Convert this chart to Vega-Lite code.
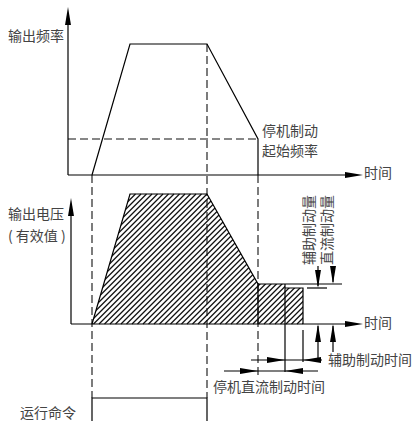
{
  "$schema": "https://vega.github.io/schema/vega-lite/v6.json",
  "width": 416,
  "height": 421,
  "padding": 0,
  "autosize": {"type": "none"},
  "background": "white",
  "config": {"view": {"stroke": null}},
  "datasets": {
    "hatch": [
      {"a":0},{"a":5.5},{"a":11},{"a":16.5},{"a":22},{"a":27.5},{"a":33},{"a":38.5},{"a":44},{"a":49.5},
      {"a":55},{"a":60.5},{"a":66},{"a":71.5},{"a":77},{"a":82.5},{"a":88},{"a":93.5},{"a":99},{"a":104.5},
      {"a":110},{"a":115.5},{"a":121},{"a":126.5},{"a":132},{"a":137.5},{"a":143},{"a":148.5},{"a":154},{"a":159.5},
      {"a":165},{"a":170.5},{"a":176},{"a":181.5},{"a":187},{"a":192.5},{"a":198},{"a":203.5},{"a":209},{"a":214.5},
      {"a":220},{"a":225.5},{"a":231},{"a":236.5},{"a":242},{"a":247.5},{"a":253},{"a":258.5},{"a":264},{"a":269.5},
      {"a":275},{"a":280.5},{"a":286},{"a":291.5},{"a":297},{"a":302.5}
    ],
    "mask": [
      {"id":"L","x":0,"top":188,"bot":330},
      {"id":"L","x":91,"top":188,"bot":330},
      {"id":"L","x":92,"top":188,"bot":324},
      {"id":"L","x":130,"top":188,"bot":194},
      {"id":"R","x":207,"top":188,"bot":194},
      {"id":"R","x":258,"top":188,"bot":284},
      {"id":"R","x":285,"top":188,"bot":284},
      {"id":"R","x":285.01,"top":188,"bot":288},
      {"id":"R","x":303,"top":188,"bot":288},
      {"id":"R","x":303.01,"top":188,"bot":325},
      {"id":"R","x":416,"top":188,"bot":325}
    ],
    "solid": [
      {"id":"s1","o":1,"x":68,"y":175},{"id":"s1","o":2,"x":68,"y":20},
      {"id":"s2","o":1,"x":68,"y":175},{"id":"s2","o":2,"x":350,"y":175},
      {"id":"s3","o":1,"x":92,"y":175},{"id":"s3","o":2,"x":130,"y":44},{"id":"s3","o":3,"x":207,"y":44},{"id":"s3","o":4,"x":258,"y":139},{"id":"s3","o":5,"x":258,"y":175},
      {"id":"s4","o":1,"x":71,"y":324},{"id":"s4","o":2,"x":71,"y":205},
      {"id":"s5","o":1,"x":71,"y":324},{"id":"s5","o":2,"x":350,"y":324},
      {"id":"s6","o":1,"x":92,"y":324},{"id":"s6","o":2,"x":130,"y":194},{"id":"s6","o":3,"x":207,"y":194},{"id":"s6","o":4,"x":258,"y":284},{"id":"s6","o":5,"x":258,"y":324},
      {"id":"s7","o":1,"x":258,"y":284},{"id":"s7","o":2,"x":342,"y":284},
      {"id":"s8","o":1,"x":285,"y":284},{"id":"s8","o":2,"x":285,"y":372},
      {"id":"s9","o":1,"x":285,"y":288},{"id":"s9","o":2,"x":303,"y":288},{"id":"s9","o":3,"x":303,"y":324},
      {"id":"s10","o":1,"x":303,"y":330},{"id":"s10","o":2,"x":303,"y":362},
      {"id":"s11","o":1,"x":307,"y":288},{"id":"s11","o":2,"x":327,"y":288},
      {"id":"s12","o":1,"x":318,"y":266},{"id":"s12","o":2,"x":318,"y":286},
      {"id":"s13","o":1,"x":333,"y":266},{"id":"s13","o":2,"x":333,"y":282},
      {"id":"s14","o":1,"x":318,"y":326},{"id":"s14","o":2,"x":318,"y":360},
      {"id":"s15","o":1,"x":333,"y":326},{"id":"s15","o":2,"x":333,"y":352},
      {"id":"s16","o":1,"x":251,"y":360},{"id":"s16","o":2,"x":322,"y":360},
      {"id":"s17","o":1,"x":224,"y":371},{"id":"s17","o":2,"x":318,"y":371},
      {"id":"s18","o":1,"x":92,"y":421},{"id":"s18","o":2,"x":92,"y":398},{"id":"s18","o":3,"x":207,"y":398},{"id":"s18","o":4,"x":207,"y":421}
    ],
    "dashed": [
      {"id":"d1","o":1,"x":68,"y":139},{"id":"d1","o":2,"x":258,"y":139},
      {"id":"d2","o":1,"x":92,"y":175},{"id":"d2","o":2,"x":92,"y":398},
      {"id":"d3","o":1,"x":207,"y":44},{"id":"d3","o":2,"x":207,"y":398},
      {"id":"d4","o":1,"x":258,"y":175},{"id":"d4","o":2,"x":258,"y":375}
    ],
    "arrows": [
      {"x":68,"y":7,"dir":"up"},
      {"x":363,"y":175,"dir":"right"},
      {"x":71,"y":198,"dir":"up"},
      {"x":363,"y":324,"dir":"right"},
      {"x":318,"y":288,"dir":"down"},
      {"x":333,"y":284,"dir":"down"},
      {"x":318,"y":324,"dir":"up"},
      {"x":333,"y":324,"dir":"up"},
      {"x":285,"y":360,"dir":"right"},
      {"x":303,"y":360,"dir":"left"},
      {"x":258,"y":371,"dir":"right"},
      {"x":285,"y":371,"dir":"left"}
    ],
    "labels": [
      {"x":8,"y":37,"t":"输出频率"},
      {"x":262,"y":132,"t":"停机制动"},
      {"x":262,"y":152,"t":"起始频率"},
      {"x":364,"y":174,"t":"时间"},
      {"x":8,"y":215,"t":"输出电压"},
      {"x":8,"y":237,"t":"( 有效值 )"},
      {"x":364,"y":324,"t":"时间"},
      {"x":328,"y":361,"t":"辅助制动时间"},
      {"x":213,"y":388,"t":"停机直流制动时间"},
      {"x":20,"y":414,"t":"运行命令"}
    ],
    "vlabels": [
      {"x":310,"y":230,"t":"辅助制动量"},
      {"x":328,"y":230,"t":"直流制动量"}
    ]
  },
  "layer": [
    {
      "data": {"name": "hatch"},
      "mark": {"type": "rule", "x2Offset": 130, "strokeWidth": 1.3, "color": "#111"},
      "encoding": {
        "x": {"field": "a", "type": "quantitative", "scale": {"domain": [0, 416], "nice": false, "zero": false}, "axis": null},
        "x2": {"field": "a"},
        "y": {"datum": 324, "type": "quantitative", "scale": {"domain": [0, 421], "nice": false, "zero": false, "reverse": true}, "axis": null},
        "y2": {"datum": 194}
      }
    },
    {
      "data": {"name": "mask"},
      "mark": {"type": "area", "color": "white", "opacity": 1, "strokeWidth": 0},
      "encoding": {
        "x": {"field": "x", "type": "quantitative"},
        "y": {"field": "top", "type": "quantitative"},
        "y2": {"field": "bot"},
        "detail": {"field": "id"}
      }
    },
    {
      "data": {"name": "dashed"},
      "mark": {"type": "line", "color": "#111", "strokeWidth": 1.1, "strokeDash": [8, 4]},
      "encoding": {
        "x": {"field": "x", "type": "quantitative"},
        "y": {"field": "y", "type": "quantitative"},
        "detail": {"field": "id"},
        "order": {"field": "o"}
      }
    },
    {
      "data": {"name": "solid"},
      "mark": {"type": "line", "color": "#000", "strokeWidth": 1.2},
      "encoding": {
        "x": {"field": "x", "type": "quantitative"},
        "y": {"field": "y", "type": "quantitative"},
        "detail": {"field": "id"},
        "order": {"field": "o"}
      }
    },
    {
      "data": {"name": "arrows"},
      "mark": {"type": "point", "filled": true, "opacity": 1, "color": "#000", "size": 324, "strokeWidth": 0},
      "encoding": {
        "x": {"field": "x", "type": "quantitative"},
        "y": {"field": "y", "type": "quantitative"},
        "shape": {
          "field": "dir", "type": "nominal", "legend": null,
          "scale": {
            "domain": ["up", "down", "left", "right"],
            "range": ["M0,0L0.33,2L-0.33,2Z", "M0,0L0.33,-2L-0.33,-2Z", "M0,0L2,0.33L2,-0.33Z", "M0,0L-2,0.33L-2,-0.33Z"]
          }
        }
      }
    },
    {
      "data": {"name": "labels"},
      "mark": {"type": "text", "align": "left", "baseline": "middle", "font": "Noto Sans CJK SC", "fontSize": 14, "color": "#444"},
      "encoding": {
        "x": {"field": "x", "type": "quantitative"},
        "y": {"field": "y", "type": "quantitative"},
        "text": {"field": "t"}
      }
    },
    {
      "data": {"name": "vlabels"},
      "mark": {"type": "text", "align": "center", "baseline": "middle", "angle": 270, "font": "Noto Sans CJK SC", "fontSize": 14, "color": "#444"},
      "encoding": {
        "x": {"field": "x", "type": "quantitative"},
        "y": {"field": "y", "type": "quantitative"},
        "text": {"field": "t"}
      }
    }
  ]
}
